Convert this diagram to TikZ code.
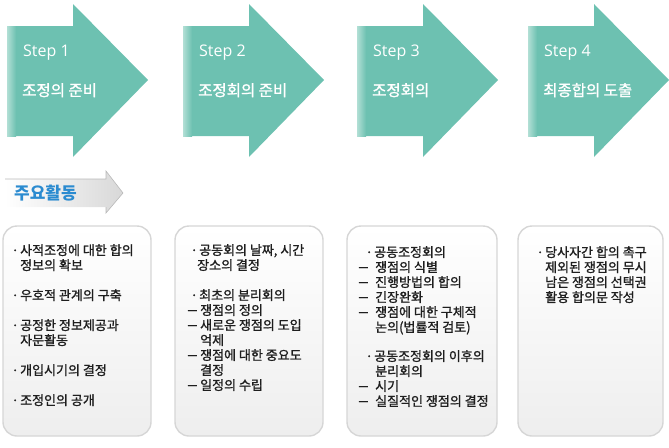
\documentclass[tikz,border=0pt]{standalone}
\usepackage{fontspec}
\setmainfont{Open Sans}
\newfontfamily\krfont{Noto Sans CJK KR}
\newfontfamily\krmedfont{Noto Sans CJK KR}[FakeBold=1.2]
\usepackage{graphicx}
\usepackage{tikz}
\usetikzlibrary{positioning}
\definecolor{StepTeal}{HTML}{6DC1B1}
\definecolor{StepTealLight}{HTML}{B2DFD5}
\definecolor{BoxEdge}{HTML}{D6D6D6}
\definecolor{BoxFill}{HTML}{EEEEEE}
\definecolor{TabBlue}{HTML}{2B8BD0}
\definecolor{TabGray}{HTML}{D8D8D8}
\definecolor{TextDark}{HTML}{1E1E1E}

\newcommand{\itm}[1]{\makebox[10pt][c]{·}#1}
\newcommand{\dsh}[2][13pt]{\makebox[#1][l]{\scalebox{1.5}[1.2]{–}}#2}

\begin{document}
\begin{tikzpicture}[
  x=1pt, y=-1pt,
  steplabel/.style={anchor=base west, inner sep=0, text=white, font=\fontsize{16}{16}\selectfont},
  stepname/.style={anchor=base west, inner sep=0, text=white, font=\krmedfont\fontsize{15.5}{15.5}\selectfont},
  tabtext/.style={anchor=base west, inner sep=0, text=TabBlue, font=\krfont\bfseries\fontsize{17}{17}\selectfont},
  actbox/.style={rounded corners=14pt, draw=BoxEdge, line width=1.4pt, top color=white, bottom color=BoxFill},
  acttext/.style={anchor=north west, inner sep=0, align=left, text=TextDark, font=\krmedfont\fontsize{13}{15}\selectfont},
]
\useasboundingbox (0,0) rectangle (669,447);

% --- steps ---
\foreach \ox/\n/\name in {7/1/조정의 준비, 183/2/조정회의 준비, 357/3/조정회의, 528/4/최종합의 도출}
{
  \fill[StepTeal] (\ox,26) -- (\ox+66,26) -- (\ox+66,4) -- (\ox+141,80)
    -- (\ox+66,157) -- (\ox+66,136) -- (\ox,136) -- cycle;
  \shade[left color=StepTealLight, right color=StepTeal] (\ox,26) rectangle (\ox+9,136);
  \node[steplabel] (step\n) at (\ox+16,56) {Step \n};
  \node[stepname] (name\n) at (\ox+15,96) {\name};
}

% --- tab ---
\shade[left color=white, right color=TabGray] (5,179) -- (106,179) -- (106,171) -- (123,193)
  -- (106,213) -- (106,207) -- (5,207) -- cycle;
\draw[gray!55, line width=0.6pt] (5,179) -- (106,179) -- (106,171) -- (123,193) -- (106,213) -- (106,207);
\node[tabtext] (tab) at (14,199) {주요활동};

% --- activity boxes ---
\path[actbox] (3,226) rectangle (151,436);
\path[actbox] (175,226) rectangle (323,436);
\path[actbox] (347,226) rectangle (497,436);
\path[actbox] (518,226) rectangle (663,436);

\node[acttext] (act1) at (10,244) {%
  \itm{사적조정에 대한 합의}\\
  \hspace*{10pt}정보의 확보\\[15pt]
  \itm{우호적 관계의 구축}\\[15pt]
  \itm{공정한 정보제공과}\\
  \hspace*{10pt}자문활동\\[15pt]
  \itm{개입시기의 결정}\\[15pt]
  \itm{조정인의 공개}};

\node[acttext] (act2) at (187,244) {%
  \hspace*{2pt}\itm{공동회의 날짜, 시간}\\
  \hspace*{10pt}장소의 결정\\[15pt]
  \hspace*{2pt}\itm{최초의 분리회의}\\
  \dsh{쟁점의 정의}\\
  \dsh{새로운 쟁점의 도입}\\
  \hspace*{13pt}억제\\
  \dsh{쟁점에 대한 중요도}\\
  \hspace*{13pt}결정\\
  \dsh{일정의 수립}};

\node[acttext] (act3) at (358,246) {%
  \hspace*{6pt}\itm{공동조정회의}\\
  \dsh[17pt]{쟁점의 식별}\\
  \dsh[17pt]{진행방법의 합의}\\
  \dsh[17pt]{긴장완화}\\
  \dsh[17pt]{쟁점에 대한 구체적}\\
  \hspace*{17pt}논의(법률적 검토)\\[14pt]
  \hspace*{6pt}\itm{공동조정회의 이후의}\\
  \hspace*{17pt}분리회의\\
  \dsh[17pt]{시기}\\
  \dsh[17pt]{실질적인 쟁점의 결정}};

\node[acttext] (act4) at (535,246) {%
  \itm{당사자간 합의 촉구}\\
  \hspace*{10pt}제외된 쟁점의 무시\\
  \hspace*{10pt}남은 쟁점의 선택권\\
  \hspace*{10pt}활용 합의문 작성};

\end{tikzpicture}
\end{document}
